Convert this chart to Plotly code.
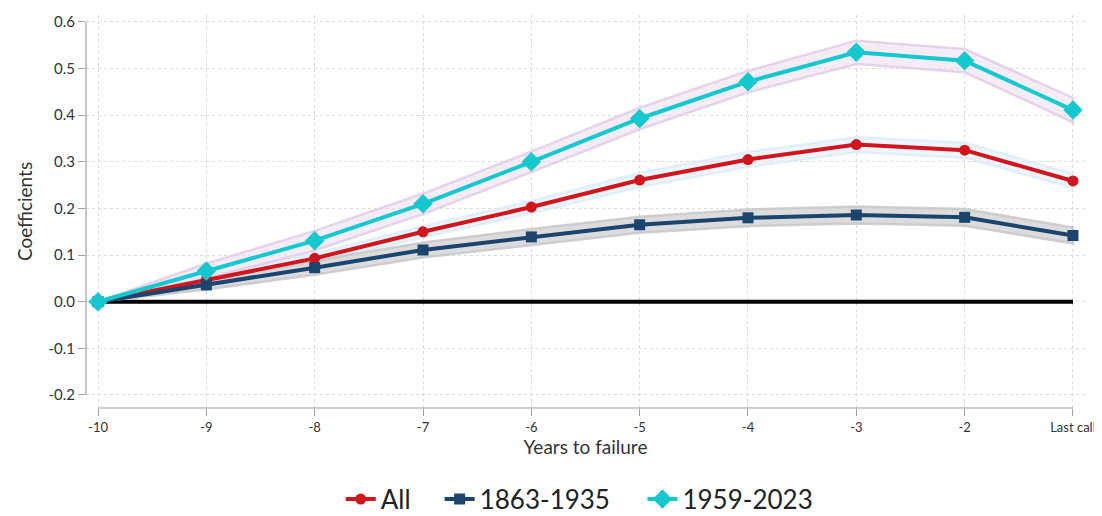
import plotly.graph_objects as go

# event time: -10 ... -2, and -1 is labelled "Last call"
years = [-10, -9, -8, -7, -6, -5, -4, -3, -2, -1]
year_labels = ["-10", "-9", "-8", "-7", "-6", "-5", "-4", "-3", "-2", "Last call"]

coef_all = [0.0, 0.047, 0.093, 0.150, 0.203, 0.261, 0.305, 0.337, 0.325, 0.259]
lo_all = [0.0, 0.040, 0.083, 0.138, 0.190, 0.246, 0.289, 0.321, 0.309, 0.244]
hi_all = [0.0, 0.054, 0.103, 0.162, 0.216, 0.276, 0.321, 0.353, 0.341, 0.274]

coef_old = [0.0, 0.036, 0.073, 0.111, 0.139, 0.165, 0.180, 0.186, 0.181, 0.142]
lo_old = [0.0, 0.026, 0.058, 0.095, 0.122, 0.148, 0.162, 0.168, 0.163, 0.125]
hi_old = [0.0, 0.046, 0.088, 0.127, 0.156, 0.182, 0.198, 0.204, 0.199, 0.159]

coef_new = [0.0, 0.066, 0.131, 0.210, 0.300, 0.393, 0.472, 0.535, 0.517, 0.411]
lo_new = [0.0, 0.050, 0.110, 0.188, 0.278, 0.370, 0.449, 0.510, 0.492, 0.385]
hi_new = [0.0, 0.082, 0.152, 0.232, 0.322, 0.416, 0.495, 0.560, 0.542, 0.437]

y_ticks = [-0.2, -0.1, 0.0, 0.1, 0.2, 0.3, 0.4, 0.5, 0.6]
y_labels = ["-0.2", "-0.1", "0.0", "0.1", "0.2", "0.3", "0.4", "0.5", "0.6"]

series = [
    ("All", coef_all, lo_all, hi_all, "#d2141c", "circle", 11,
     "rgba(226,240,250,0.6)", "rgba(214,233,247,0.7)", "legend", 0.255),
    ("1863-1935", coef_old, lo_old, hi_old, "#1b456d", "square", 11,
     "rgba(208,208,208,0.75)", "rgba(198,198,198,0.8)", "legend2", 0.354),
    ("1959-2023", coef_new, lo_new, hi_new, "#14c8cf", "diamond", 15,
     "rgba(236,220,238,0.55)", "rgba(226,204,230,0.85)", "legend3", 0.557),
]

fig = go.Figure()

# confidence bands
for name, c, lo, hi, col, sym, size, fillc, edgec, leg, legx in series:
    fig.add_trace(go.Scatter(
        x=years + years[::-1], y=hi + lo[::-1],
        fill="toself", fillcolor=fillc,
        line=dict(color=edgec, width=2.5),
        mode="lines", hoverinfo="skip", showlegend=False
    ))

# point estimates, each in its own legend box so spacing can follow the original
legends = {}
for name, c, lo, hi, col, sym, size, fillc, edgec, leg, legx in series:
    fig.add_trace(go.Scatter(
        x=years, y=c, name=name, mode="lines+markers", legend=leg,
        line=dict(color=col, width=4),
        marker=dict(symbol=sym, size=size, color=col)
    ))
    legends[leg] = dict(orientation="h", x=legx, xanchor="left", y=-0.232,
                        yanchor="middle", font=dict(size=26, color="#222222"),
                        itemwidth=30, bgcolor="rgba(0,0,0,0)")

# zero line
fig.add_shape(type="line", xref="x", yref="y", x0=years[0], x1=years[-1],
              y0=0, y1=0, line=dict(color="black", width=4), layer="between")

# detached axis lines
fig.add_shape(type="line", xref="paper", yref="y", x0=0, x1=0,
              y0=y_ticks[0], y1=y_ticks[-1], line=dict(color="#a0a0a0", width=1.2))
fig.add_shape(type="line", xref="x", yref="paper", x0=years[0], x1=years[-1],
              y0=0, y1=0, line=dict(color="#a0a0a0", width=1.2))

# page body adds an 8px margin, so the figure is sized to fit inside it
fig.update_layout(
    width=1094, height=508,
    margin=dict(l=78, r=17, t=7, b=108, autoexpand=False),
    plot_bgcolor="white", paper_bgcolor="white",
    font=dict(family="Lato, sans-serif", color="#333333", size=14),
    xaxis=dict(
        range=[-10.111, -0.889], tickvals=years, ticktext=year_labels,
        showgrid=True, gridcolor="#dadada", griddash="dot", gridwidth=1,
        showline=False, zeroline=False, automargin=False,
        ticks="outside", ticklen=7, tickcolor="#a0a0a0",
        title=dict(text="Years to failure", font=dict(size=19), standoff=0),
        tickfont=dict(size=13)
    ),
    yaxis=dict(
        range=[-0.228, 0.615], tickvals=y_ticks, ticktext=y_labels,
        showgrid=True, gridcolor="#dadada", griddash="dot", gridwidth=1,
        showline=False, zeroline=False, automargin=False,
        ticks="outside", ticklen=7, tickcolor="#a0a0a0",
        title=dict(text="Coefficients", font=dict(size=19), standoff=10),
        tickfont=dict(size=15)
    ),
    **legends
)

fig.write_html("out.html")
